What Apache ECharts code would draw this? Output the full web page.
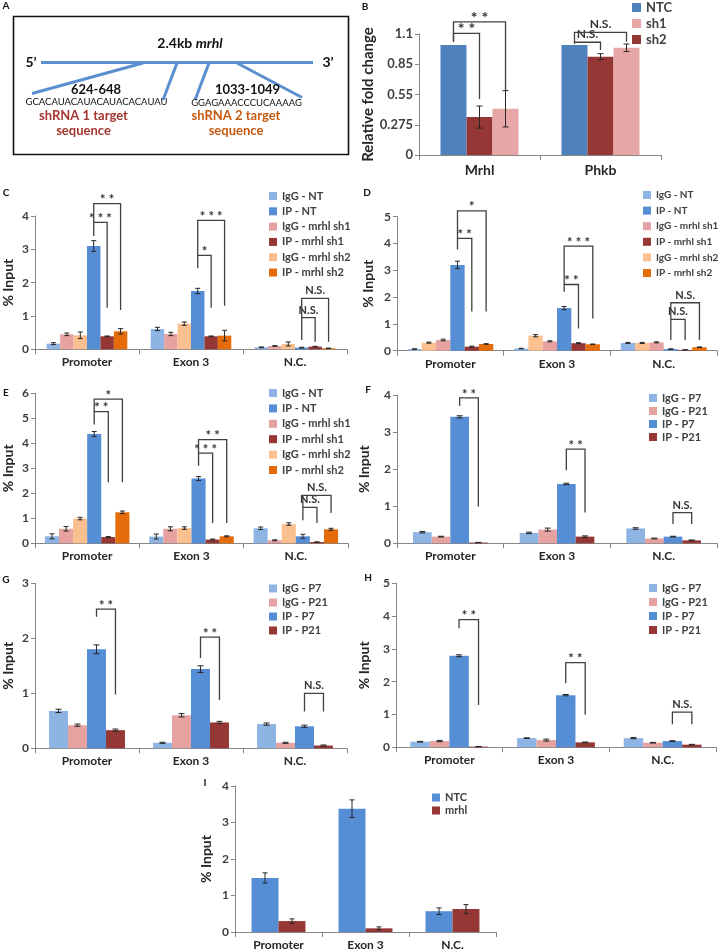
<!DOCTYPE html>
<html><head><meta charset="utf-8">
<script src="https://cdn.jsdelivr.net/npm/echarts@6/dist/echarts.min.js"></script>
<style>html,body{margin:0;padding:0;background:#fff}#main{width:720px;height:951px}</style>
</head><body><div id="main"></div>
<script>
// ---------- DATA ----------
const regions = ['Promoter', 'Exon 3', 'N.C.'];

// Panel B
const bCategories = ['Mrhl', 'Phkb'];
const bTickLabels = ['0', '0.275', '0.55', '0.85', '1.1'];
const bNTC = [1.0, 1.0];     const bNTCErr = [0, 0];
const bSh2 = [0.345, 0.894]; const bSh2Err = [0.1, 0.027];
const bSh1 = [0.42, 0.975];  const bSh1Err = [0.165, 0.034];

// Panel C
const cIgGNT  = [0.17, 0.61, 0.06]; const cIgGNTErr  = [0.03, 0.05, 0.01];
const cIgGSh1 = [0.45, 0.46, 0.10]; const cIgGSh1Err = [0.04, 0.05, 0.01];
const cIgGSh2 = [0.42, 0.77, 0.16]; const cIgGSh2Err = [0.10, 0.05, 0.06];
const cIPNT   = [3.10, 1.75, 0.05]; const cIPNTErr   = [0.16, 0.08, 0.01];
const cIPSh1  = [0.39, 0.39, 0.08]; const cIPSh1Err  = [0.01, 0.01, 0.01];
const cIPSh2  = [0.54, 0.41, 0.03]; const cIPSh2Err  = [0.08, 0.16, 0.005];

// Panel D
const dIgGNT  = [0.06, 0.08, 0.29]; const dIgGNTErr  = [0.01, 0.01, 0.02];
const dIgGSh2 = [0.30, 0.56, 0.29]; const dIgGSh2Err = [0.02, 0.04, 0.02];
const dIgGSh1 = [0.40, 0.35, 0.31]; const dIgGSh1Err = [0.03, 0.02, 0.02];
const dIPNT   = [3.20, 1.59, 0.06]; const dIPNTErr   = [0.14, 0.06, 0.01];
const dIPSh1  = [0.15, 0.28, 0.03]; const dIPSh1Err  = [0.02, 0.02, 0.005];
const dIPSh2  = [0.25, 0.24, 0.13]; const dIPSh2Err  = [0.01, 0.01, 0.01];

// Panel E
const eIgGNT  = [0.28, 0.27, 0.60]; const eIgGNTErr  = [0.10, 0.10, 0.05];
const eIgGSh1 = [0.58, 0.58, 0.12]; const eIgGSh1Err = [0.09, 0.08, 0.02];
const eIgGSh2 = [0.99, 0.61, 0.77]; const eIgGSh2Err = [0.05, 0.05, 0.05];
const eIPNT   = [4.37, 2.59, 0.28]; const eIPNTErr   = [0.10, 0.08, 0.08];
const eIPSh1  = [0.25, 0.15, 0.05]; const eIPSh1Err  = [0.02, 0.02, 0.01];
const eIPSh2  = [1.24, 0.28, 0.56]; const eIPSh2Err  = [0.05, 0.02, 0.04];

// Panel F
const fIgGP7  = [0.30, 0.28, 0.40]; const fIgGP7Err  = [0.02, 0.02, 0.02];
const fIgGP21 = [0.18, 0.37, 0.13]; const fIgGP21Err = [0.01, 0.04, 0.01];
const fIPP7   = [3.41, 1.60, 0.18]; const fIPP7Err   = [0.03, 0.02, 0.01];
const fIPP21  = [0.02, 0.18, 0.08]; const fIPP21Err  = [0.005, 0.02, 0.01];

// Panel G
const gIgGP7  = [0.68, 0.10, 0.44]; const gIgGP7Err  = [0.03, 0.01, 0.02];
const gIgGP21 = [0.42, 0.60, 0.10]; const gIgGP21Err = [0.02, 0.03, 0.01];
const gIPP7   = [1.80, 1.44, 0.40]; const gIPP7Err   = [0.08, 0.06, 0.02];
const gIPP21  = [0.33, 0.47, 0.05]; const gIPP21Err  = [0.02, 0.02, 0.01];

// Panel H
const hIgGP7  = [0.17, 0.28, 0.28]; const hIgGP7Err  = [0.01, 0.01, 0.02];
const hIgGP21 = [0.19, 0.22, 0.14]; const hIgGP21Err = [0.02, 0.03, 0.01];
const hIPP7   = [2.79, 1.59, 0.19]; const hIPP7Err   = [0.03, 0.02, 0.01];
const hIPP21  = [0.02, 0.15, 0.08]; const hIPP21Err  = [0.005, 0.01, 0.01];

// Panel I
const iNTC  = [1.48, 3.38, 0.57]; const iNTCErr  = [0.14, 0.24, 0.09];
const iMrhl = [0.30, 0.10, 0.63]; const iMrhlErr = [0.06, 0.04, 0.12];

// Significance brackets: category, bar from/to, top, left-bottom, right-bottom (data units), label
const bBrackets = [
  {cat:0, from:0, to:1, top:1.105, lb:1.03, rb:0.51, label:'**'},
  {cat:0, from:0, to:2, top:1.21, lb:1.03, rb:0.59, label:'**'},
  {cat:1, from:0, to:1, top:1.025, lb:1.01, rb:0.955, label:'N.S.'},
  {cat:1, from:0, to:2, top:1.115, lb:1.025, rb:1.03, label:'N.S.'}
];
const cBrackets = [
  {cat:0, from:3, to:4, top:3.81, lb:3.40, rb:1.25, label:'***'},
  {cat:0, from:3, to:5, top:4.37, lb:3.81, rb:1.18, label:'**'},
  {cat:1, from:3, to:4, top:2.82, lb:2.43, rb:1.25, label:'*'},
  {cat:1, from:3, to:5, top:3.87, lb:2.82, rb:1.31, label:'***'},
  {cat:2, from:3, to:4, top:0.95, lb:0.28, rb:0.23, label:'N.S.'},
  {cat:2, from:3, to:5, top:1.53, lb:0.95, rb:0.23, label:'N.S.'}
];
const dBrackets = [
  {cat:0, from:3, to:4, top:4.19, lb:3.78, rb:1.46, label:'**'},
  {cat:0, from:3, to:5, top:5.22, lb:4.19, rb:1.46, label:'*'},
  {cat:1, from:3, to:4, top:2.47, lb:2.20, rb:0.83, label:'**'},
  {cat:1, from:3, to:5, top:3.90, lb:2.47, rb:1.20, label:'***'},
  {cat:2, from:3, to:4, top:1.17, lb:0.40, rb:0.40, label:'N.S.'},
  {cat:2, from:3, to:5, top:1.79, lb:1.17, rb:0.40, label:'N.S.'}
];
const eBrackets = [
  {cat:0, from:3, to:4, top:5.27, lb:4.75, rb:2.44, label:'**'},
  {cat:0, from:3, to:5, top:5.77, lb:5.27, rb:2.44, label:'*'},
  {cat:1, from:3, to:4, top:3.61, lb:3.10, rb:0.81, label:'***'},
  {cat:1, from:3, to:5, top:4.15, lb:3.61, rb:0.81, label:'**'},
  {cat:2, from:3, to:4, top:1.44, lb:0.92, rb:0.81, label:'N.S.'},
  {cat:2, from:3, to:5, top:1.92, lb:1.44, rb:1.21, label:'N.S.'}
];
const fBrackets = [
  {cat:0, from:2, to:3, top:3.92, lb:3.70, rb:0.99, label:'**'},
  {cat:1, from:2, to:3, top:2.54, lb:1.97, rb:0.83, label:'**'},
  {cat:2, from:2, to:3, top:0.83, lb:0.52, rb:0.52, label:'N.S.'}
];
const gBrackets = [
  {cat:0, from:2, to:3, top:2.53, lb:2.39, rb:0.98, label:'**'},
  {cat:1, from:2, to:3, top:2.02, lb:1.64, rb:0.88, label:'**'},
  {cat:2, from:2, to:3, top:1.00, lb:0.67, rb:0.67, label:'N.S.'}
];
const hBrackets = [
  {cat:0, from:2, to:3, top:3.89, lb:3.63, rb:1.29, label:'**'},
  {cat:1, from:2, to:3, top:2.58, lb:1.95, rb:0.99, label:'**'},
  {cat:2, from:2, to:3, top:1.07, lb:0.70, rb:0.70, label:'N.S.'}
];

// ---------- STYLE ----------
const FONT = 'Lato';
const COL = {
  lightBlue:'#8db4e2', blue:'#558ed5', pink:'#e6a2a1', darkRed:'#953735',
  peach:'#fac090', orange:'#e46c0a', bBlue:'#4f81bd', bPink:'#e6a7a6'
};
const AX = '#868686', TXT = '#262626';

const chart = echarts.init(document.getElementById('main'));

const grids = [], xAxes = [], yAxes = [], legends = [], series = [];

function addGrid(g) {
  const gi = grids.length;
  grids.push({left:g.left, top:g.top, width:g.width, height:g.height, containLabel:false});
  xAxes.push({type:'category', gridIndex:gi, data:g.cats,
    axisLine:{lineStyle:{color:AX, width:1}},
    axisTick:{show:true, length:5, lineStyle:{color:AX}},
    axisLabel:{fontFamily:FONT, fontWeight:'bold', fontSize:g.xFont||12, color:TXT, margin:g.xMargin||7}});
  yAxes.push({type:'value', gridIndex:gi, min:0, max:g.max, interval:g.interval,
    name:g.yName, nameLocation:'middle', nameGap:g.nameGap, nameRotate:90,
    nameTextStyle:{fontFamily:FONT, fontWeight:'bold', fontSize:g.nameFont||14, color:TXT},
    axisLine:{show:true, lineStyle:{color:AX, width:1}},
    axisTick:{show:true, length:4, lineStyle:{color:AX}},
    splitLine:{show:false},
    axisLabel:{fontFamily:FONT, fontWeight:'bold', fontSize:g.yFont||12, color:'#404040', margin:6,
      formatter:g.yFmt}});
  legends.push({orient:'vertical', left:g.legLeft, top:g.legTop, itemWidth:g.legSize||8, itemHeight:g.legSize||8,
    itemGap:g.legGap, icon:'rect', selectedMode:false, data:g.legData, padding:0,
    textStyle:{fontFamily:FONT, fontWeight:'bold', fontSize:g.legFont||11, color:'#404040'}});
  return gi;
}

function errRender(idx, n, gap, capW) {
  return function (params, api) {
    const e = api.value(2);
    if (!e) return null;
    const band = api.size([1, 0])[0];
    const bw = band * (1 - gap) / n;
    const cat = api.value(0), v = api.value(1);
    const x = api.coord([cat, v])[0] + (idx - (n - 1) / 2) * bw;
    const yt = api.coord([cat, v + e])[1];
    const yb = api.coord([cat, Math.max(0, v - e)])[1];
    const st = {stroke:'#262626', lineWidth:1};
    return {type:'group', children:[
      {type:'line', shape:{x1:x, y1:yt, x2:x, y2:yb}, style:st},
      {type:'line', shape:{x1:x - capW, y1:yt, x2:x + capW, y2:yt}, style:st},
      {type:'line', shape:{x1:x - capW, y1:yb, x2:x + capW, y2:yb}, style:st}
    ]};
  };
}

function bracketRender(list, n, gap, starSize, nsSize) {
  return function (params, api) {
    const b = list[params.dataIndex];
    const band = api.size([1, 0])[0];
    const bw = band * (1 - gap) / n;
    const cx = api.coord([b.cat, 0])[0];
    const xl = cx + (b.from - (n - 1) / 2) * bw;
    const xr = cx + (b.to - (n - 1) / 2) * bw;
    const yt = api.coord([b.cat, b.top])[1];
    const yl = api.coord([b.cat, b.lb])[1];
    const yr = api.coord([b.cat, b.rb])[1];
    const isNS = b.label === 'N.S.';
    const fs = isNS ? nsSize : starSize;
    const shown = isNS ? b.label : b.label.split('').join(' ');
    return {type:'group', children:[
      {type:'polyline', shape:{points:[[xl, yl], [xl, yt], [xr, yt], [xr, yr]]},
        style:{stroke:'#404040', lineWidth:1.3, fill:null}},
      {type:'text', style:{text:shown, x:(xl + xr) / 2, y:isNS ? yt - 2 : yt - 1 + fs * 0.3,
        align:'center', textAlign:'center', verticalAlign:'bottom', textVerticalAlign:'bottom',
        fontFamily:FONT, fontWeight:'bold', fontSize:fs, fill:'#333'}}
    ]};
  };
}

function addPanel(gi, defs, gap, brackets, capW, starSize, nsSize) {
  const n = defs.length;
  defs.forEach((d, idx) => {
    series.push({type:'bar', name:d.name, xAxisIndex:gi, yAxisIndex:gi, data:d.data,
      barGap:'0%', barCategoryGap:(gap * 100) + '%', itemStyle:{color:d.color}, silent:true});
    series.push({type:'custom', xAxisIndex:gi, yAxisIndex:gi, z:5, clip:false, silent:true,
      data:d.data.map((v, i) => [i, v, d.err[i]]), renderItem:errRender(idx, n, gap, capW)});
  });
  if (brackets) {
    series.push({type:'custom', xAxisIndex:gi, yAxisIndex:gi, z:6, clip:false, silent:true,
      data:brackets.map(b => [b.cat, b.top]), renderItem:bracketRender(brackets, n, gap, starSize, nsSize)});
  }
}

// ----- Panel B -----
let gi = addGrid({left:419, top:34, width:242, height:121, cats:bCategories, max:1.1, interval:0.275,
  yFmt:(v) => bTickLabels[Math.round(v / 0.275)], yName:'Relative fold change', nameGap:42, nameFont:15,
  yFont:13, xFont:14, xMargin:8, legLeft:632, legTop:1, legGap:3, legSize:9, legFont:13,
  legData:['NTC', 'sh1', 'sh2']});
addPanel(gi, [
  {name:'NTC', data:bNTC, err:bNTCErr, color:COL.bBlue},
  {name:'sh2', data:bSh2, err:bSh2Err, color:COL.darkRed},
  {name:'sh1', data:bSh1, err:bSh1Err, color:COL.bPink}
], 0.355, bBrackets, 3, 16, 12);

const shLegend = ['IgG - NT', 'IP - NT', 'IgG - mrhl sh1', 'IP - mrhl sh1', 'IgG - mrhl sh2', 'IP - mrhl sh2'];
const pLegend = ['IgG - P7', 'IgG - P21', 'IP - P7', 'IP - P21'];

// ----- Panel C -----
gi = addGrid({left:29, top:216, width:318, height:133.3, cats:regions, max:4, interval:1,
  yName:'% Input', nameGap:20, legLeft:269, legTop:190.5, legGap:4.3, legData:shLegend});
addPanel(gi, [
  {name:'IgG - NT', data:cIgGNT, err:cIgGNTErr, color:COL.lightBlue},
  {name:'IgG - mrhl sh1', data:cIgGSh1, err:cIgGSh1Err, color:COL.pink},
  {name:'IgG - mrhl sh2', data:cIgGSh2, err:cIgGSh2Err, color:COL.peach},
  {name:'IP - NT', data:cIPNT, err:cIPNTErr, color:COL.blue},
  {name:'IP - mrhl sh1', data:cIPSh1, err:cIPSh1Err, color:COL.darkRed},
  {name:'IP - mrhl sh2', data:cIPSh2, err:cIPSh2Err, color:COL.orange}
], 0.225, cBrackets, 2.5, 13, 11);

// ----- Panel D -----
gi = addGrid({left:397, top:216.7, width:320, height:134, cats:regions, max:5, interval:1,
  yName:'% Input', nameGap:22, legLeft:643, legTop:190, legGap:5.6, legFont:10, legData:shLegend});
addPanel(gi, [
  {name:'IgG - NT', data:dIgGNT, err:dIgGNTErr, color:COL.lightBlue},
  {name:'IgG - mrhl sh2', data:dIgGSh2, err:dIgGSh2Err, color:COL.peach},
  {name:'IgG - mrhl sh1', data:dIgGSh1, err:dIgGSh1Err, color:COL.pink},
  {name:'IP - NT', data:dIPNT, err:dIPNTErr, color:COL.blue},
  {name:'IP - mrhl sh1', data:dIPSh1, err:dIPSh1Err, color:COL.darkRed},
  {name:'IP - mrhl sh2', data:dIPSh2, err:dIPSh2Err, color:COL.orange}
], 0.195, dBrackets, 2.5, 13, 11);

// ----- Panel E -----
gi = addGrid({left:29, top:393.3, width:319, height:150, cats:regions, max:6, interval:1,
  yName:'% Input', nameGap:20, legLeft:269, legTop:387.5, legGap:4.4, legData:shLegend});
addPanel(gi, [
  {name:'IgG - NT', data:eIgGNT, err:eIgGNTErr, color:COL.lightBlue},
  {name:'IgG - mrhl sh1', data:eIgGSh1, err:eIgGSh1Err, color:COL.pink},
  {name:'IgG - mrhl sh2', data:eIgGSh2, err:eIgGSh2Err, color:COL.peach},
  {name:'IP - NT', data:eIPNT, err:eIPNTErr, color:COL.blue},
  {name:'IP - mrhl sh1', data:eIPSh1, err:eIPSh1Err, color:COL.darkRed},
  {name:'IP - mrhl sh2', data:eIPSh2, err:eIPSh2Err, color:COL.orange}
], 0.19, eBrackets, 2.5, 13, 11);

// ----- Panel F -----
gi = addGrid({left:397, top:395, width:320, height:148.3, cats:regions, max:4, interval:1,
  yName:'% Input', nameGap:26, legLeft:649, legTop:392.5, legGap:2, legData:pLegend});
addPanel(gi, [
  {name:'IgG - P7', data:fIgGP7, err:fIgGP7Err, color:COL.lightBlue},
  {name:'IgG - P21', data:fIgGP21, err:fIgGP21Err, color:COL.pink},
  {name:'IP - P7', data:fIPP7, err:fIPP7Err, color:COL.blue},
  {name:'IP - P21', data:fIPP21, err:fIPP21Err, color:COL.darkRed}
], 0.30, fBrackets, 3, 13, 11);

// ----- Panel G -----
gi = addGrid({left:29, top:583.3, width:318, height:165, cats:regions, max:3, interval:1,
  yName:'% Input', nameGap:20, legLeft:269, legTop:583, legGap:3, legData:pLegend});
addPanel(gi, [
  {name:'IgG - P7', data:gIgGP7, err:gIgGP7Err, color:COL.lightBlue},
  {name:'IgG - P21', data:gIgGP21, err:gIgGP21Err, color:COL.pink},
  {name:'IP - P7', data:gIPP7, err:gIPP7Err, color:COL.blue},
  {name:'IP - P21', data:gIPP21, err:gIPP21Err, color:COL.darkRed}
], 0.27, gBrackets, 3, 13, 11);

// ----- Panel H -----
gi = addGrid({left:396, top:583.3, width:320, height:164, cats:regions, max:5, interval:1,
  yName:'% Input', nameGap:25, legLeft:649, legTop:582.5, legGap:3, legData:pLegend});
addPanel(gi, [
  {name:'IgG - P7', data:hIgGP7, err:hIgGP7Err, color:COL.lightBlue},
  {name:'IgG - P21', data:hIgGP21, err:hIgGP21Err, color:COL.pink},
  {name:'IP - P7', data:hIPP7, err:hIPP7Err, color:COL.blue},
  {name:'IP - P21', data:hIPP21, err:hIPP21Err, color:COL.darkRed}
], 0.27, hBrackets, 3, 13, 11);

// ----- Panel I -----
gi = addGrid({left:235, top:786, width:261, height:147.3, cats:regions, max:4, interval:1,
  yName:'% Input', nameGap:22, legLeft:432, legTop:792, legGap:2, legData:['NTC ', 'mrhl']});
addPanel(gi, [
  {name:'NTC ', data:iNTC, err:iNTCErr, color:COL.blue},
  {name:'mrhl', data:iMrhl, err:iMrhlErr, color:COL.darkRed}
], 0.38, null, 2.5, 13, 11);

// ----- Panel A diagram + panel letters -----
const blueLine = {stroke:'#5b8fd0', lineWidth:3};
function txt(t, x, y, size, opts) {
  return {type:'text', style:Object.assign({text:t, x:x, y:y, align:'center', textAlign:'center',
    verticalAlign:'middle', textVerticalAlign:'middle', fontFamily:FONT, fontWeight:'bold',
    fontSize:size, fill:'#111'}, opts || {})};
}
const graphics = [
  {type:'rect', shape:{x:13.5, y:16.5, width:335, height:138}, style:{stroke:'#111', lineWidth:1.6, fill:null}},
  {type:'line', shape:{x1:41, y1:62.5, x2:313, y2:62.5}, style:blueLine},
  {type:'line', shape:{x1:143, y1:63, x2:32, y2:93.5}, style:blueLine},
  {type:'line', shape:{x1:177, y1:63, x2:163, y2:100}, style:blueLine},
  {type:'line', shape:{x1:209, y1:63, x2:195, y2:100}, style:blueLine},
  {type:'line', shape:{x1:237, y1:63, x2:302, y2:97.5}, style:blueLine},
  {type:'text', style:{text:'{n|2.4kb }{i|mrhl}', x:190, y:43, align:'center', textAlign:'center',
    verticalAlign:'middle', textVerticalAlign:'middle',
    rich:{n:{fontFamily:FONT, fontWeight:'bold', fontSize:14, fill:'#111', color:'#111'},
          i:{fontFamily:FONT, fontWeight:'bold', fontStyle:'italic', fontSize:14, fill:'#111', color:'#111'}}}},
  txt('5\u2019', 31, 62, 14),
  txt('3\u2019', 328, 62, 14),
  txt('624-648', 96, 89.5, 13),
  txt('GCACAUACAUACAUACACAUAU', 96.5, 102, 9.5, {fontWeight:'normal'}),
  txt('shRNA 1 target', 83.5, 116, 13, {fill:'#a5352f'}),
  txt('sequence', 83.5, 130.5, 13, {fill:'#a5352f'}),
  txt('1033-1049', 247.5, 90, 13),
  txt('GGAGAAACCCUCAAAAG', 246.5, 103, 9.5, {fontWeight:'normal'}),
  txt('shRNA 2 target', 236, 116, 13, {fill:'#c55a11'}),
  txt('sequence', 236, 130.5, 13, {fill:'#c55a11'}),
  txt('A', 6, 6, 10),
  txt('B', 365, 7, 10),
  txt('C', 6, 193, 10),
  txt('D', 367, 193, 10),
  txt('E', 6, 393, 10),
  txt('F', 368, 390, 10),
  txt('G', 6, 580, 10),
  txt('H', 368, 578, 10),
  txt('I', 205, 783, 10)
];

chart.setOption({
  animation:false,
  grid:grids, xAxis:xAxes, yAxis:yAxes, legend:legends, series:series,
  graphic:graphics
});
</script></body></html>
